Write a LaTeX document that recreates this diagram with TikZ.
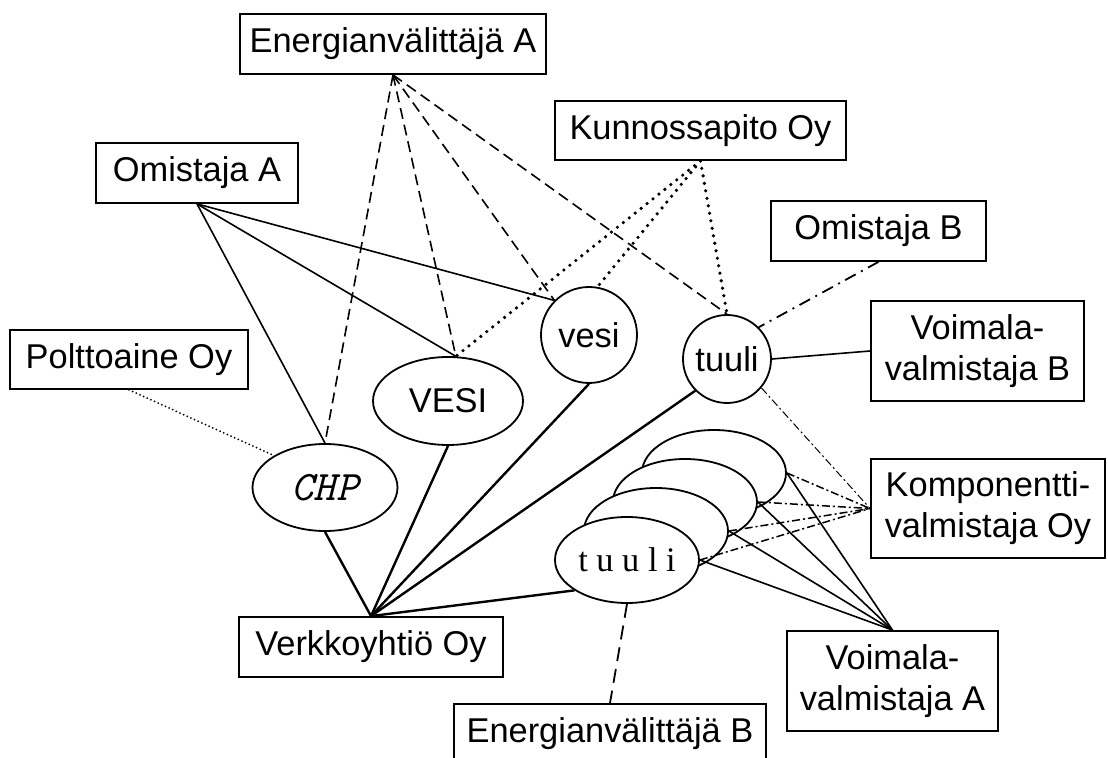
\documentclass[tikz,border=0pt]{standalone}
\usepackage{fontspec}
\setmainfont{Liberation Sans}
\newfontfamily\timesfont{Liberation Serif}
\usetikzlibrary{shapes.geometric}
\newcommand\boxfont{\fontsize{17.2}{20.6}\selectfont}

\begin{document}
\begin{tikzpicture}[x=0.5pt,y=-0.5pt,
    party/.style={draw,line width=0.9pt,fill=white,inner sep=0pt,
      align=center,font=\boxfont},
    plant/.style={draw,ellipse,line width=0.9pt,fill=white,inner sep=0pt,
      minimum width=72pt,minimum height=43pt},
    unit/.style={draw,circle,line width=0.9pt,fill=white,inner sep=0pt,
      font=\boxfont},
    owns/.style={line width=0.8pt},
    feeds/.style={line width=1.2pt},
    trades/.style={line width=0.8pt,dash pattern=on 5.5pt off 3pt},
    services/.style={line width=1.8pt,line cap=round,
      dash pattern=on 0pt off 3.8pt},
    fuels/.style={line width=1pt,line cap=round,
      dash pattern=on 0pt off 2pt},
    owndash/.style={line width=0.9pt,
      dash pattern=on 6pt off 3pt on 1pt off 3pt},
    parts/.style={line width=0.75pt,
      dash pattern=on 4pt off 1.5pt on 1pt off 1.5pt},
    tradesB/.style={line width=0.9pt,dash pattern=on 7pt off 4pt}]
  \useasboundingbox (0,0) rectangle (1108,758);
  % actors
  \node[party,minimum width=153pt,minimum height=30pt]
    (enA) at (393,44) {Energianvälittäjä A};
  \node[party,minimum width=145.5pt,minimum height=29.5pt]
    (huolto) at (700.5,130.5) {Kunnossapito Oy};
  \node[party,minimum width=101pt,minimum height=30pt]
    (omA) at (197,173) {Omistaja A};
  \node[party,minimum width=107.5pt,minimum height=30pt]
    (omB) at (878.5,231) {Omistaja B};
  \node[party,minimum width=106.5pt,minimum height=50pt]
    (valB) at (977.5,351) {Voimala-\\valmistaja B};
  \node[party,minimum width=119pt,minimum height=29.5pt]
    (poltto) at (129,359.5) {Polttoaine Oy};
  \node[party,minimum width=117pt,minimum height=49.5pt]
    (komp) at (988,508.5) {Komponentti-\\valmistaja Oy};
  \node[party,minimum width=105.5pt,minimum height=50pt]
    (valA) at (892.5,681) {Voimala-\\valmistaja A};
  \node[party,minimum width=132pt,minimum height=30pt]
    (verkko) at (371,647) {Verkkoyhtiö Oy};
  \node[party,minimum width=156pt,minimum height=30pt]
    (enB) at (610,734) {Energianvälittäjä B};
  % plants
  \node[plant,minimum width=72.5pt,minimum height=43.5pt,
    font={\fontsize{21}{24}\selectfont\ttfamily\itshape}]
    (chp) at (325,487.5) {CHP};
  \node[plant,minimum width=75pt,minimum height=44pt,font=\boxfont]
    (vesiA) at (448,401) {VESI};
  \node[unit,minimum size=48pt]
    (vesiB) at (589,335) {vesi};
  \node[unit,minimum size=44pt]
    (tuuliB) at (727,359) {tuuli};
  \node[plant] (farm3) at (714,473) {};
  \node[plant] (farm2) at (685,502) {};
  \node[plant] (farm1) at (656,531) {};
  \node[plant,font={\boxfont\timesfont}]
    (farm0) at (627,560) {t u u l i};
  % Energianvalittaja A
  \draw[trades]
    (enA.south)
    --
    (chp.north);
  \draw[trades]
    (enA.south)
    --
    (vesiA.80);
  \draw[trades]
    (enA.south)
    --
    (vesiB.135);
  \draw[trades]
    (enA.south)
    --
    (tuuliB.north);
  % Omistaja A
  \draw[owns]
    (omA.south)
    --
    (chp.north);
  \draw[owns]
    (omA.south)
    --
    (vesiA.80);
  \draw[owns]
    (omA.south)
    --
    (vesiB.135);
  % Kunnossapito
  \draw[services]
    (huolto.south)
    --
    (vesiA.80);
  \draw[services]
    (huolto.south)
    --
    (vesiB.80);
  \draw[services]
    (huolto.south)
    --
    (tuuliB.north);
  % Polttoaine, Omistaja B, Voimalavalmistaja B
  \draw[fuels]
    (poltto.south)
    --
    (chp.148);
  \draw[owndash]
    (omB.south)
    --
    (tuuliB.45);
  \draw[owns]
    (tuuliB.east)
    --
    (valB.west);
  % Komponenttivalmistaja
  \draw[parts,line width=0.5pt]
    (tuuliB.-40)
    --
    (komp.west);
  \draw[parts]
    (farm3.east)
    --
    (komp.west);
  \draw[parts]
    (farm2.east)
    --
    (komp.west);
  \draw[parts]
    (farm1.east)
    --
    (komp.west);
  \draw[parts]
    (farm0.east)
    --
    (komp.west);
  % Voimalavalmistaja A
  \draw[owns]
    (farm3.east)
    --
    (valA.north);
  \draw[owns]
    (farm2.east)
    --
    (valA.north);
  \draw[owns]
    (farm1.east)
    --
    (valA.north);
  \draw[owns]
    (farm0.east)
    --
    (valA.north);
  % Verkkoyhtio
  \draw[feeds]
    (chp.south)
    --
    (verkko.north);
  \draw[feeds]
    (vesiA.south)
    --
    (verkko.north);
  \draw[feeds]
    (vesiB.south)
    --
    (verkko.north);
  \draw[feeds]
    (tuuliB.225)
    --
    (verkko.north);
  \draw[feeds]
    (farm0.210)
    --
    (verkko.north);
  % Energianvalittaja B
  \draw[tradesB]
    (farm0.south)
    --
    (enB.north);
\end{tikzpicture}
\end{document}
